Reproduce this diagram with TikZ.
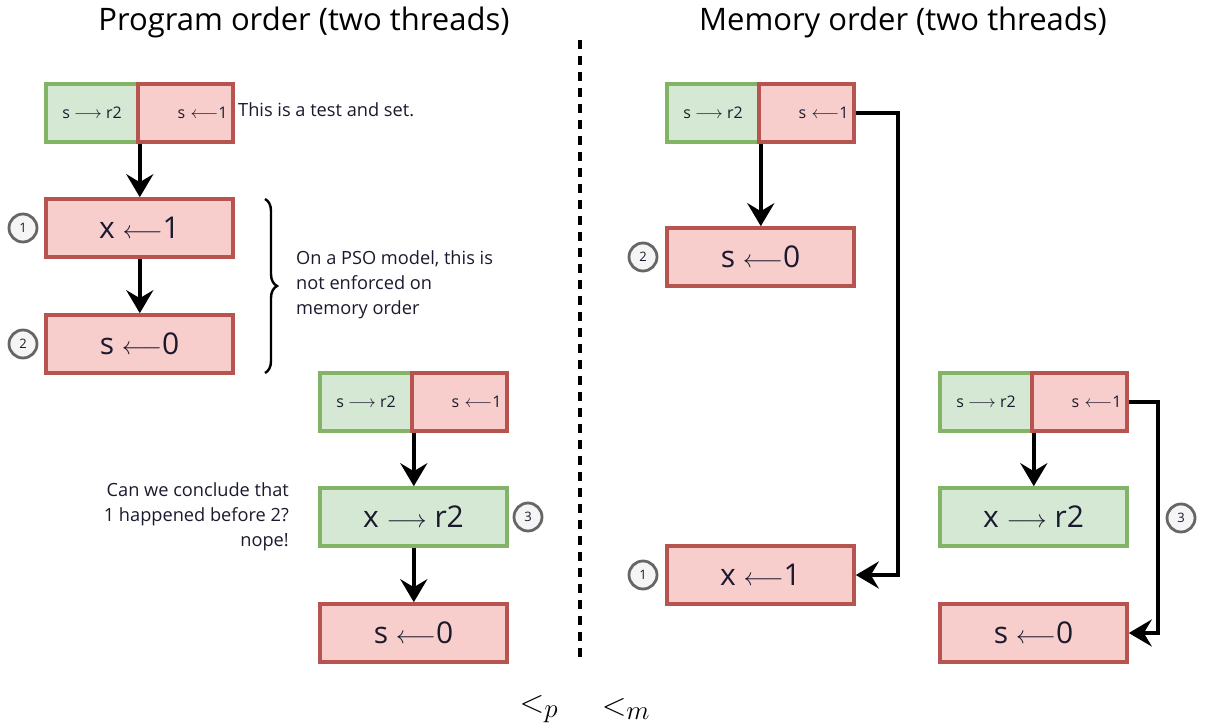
\documentclass[tikz,border=0pt]{standalone}
\usepackage{fontspec}
\setmainfont{Open Sans}
\usetikzlibrary{arrows.meta,decorations.pathreplacing,calc}
\definecolor{gfill}{HTML}{D5E8D4}
\definecolor{gline}{HTML}{82B366}
\definecolor{rfill}{HTML}{F8CECC}
\definecolor{rline}{HTML}{B85450}
\definecolor{cline}{HTML}{666666}
\definecolor{cfill}{HTML}{F5F5F5}
\definecolor{ink}{HTML}{1A1A2E}
\begin{document}
\begin{tikzpicture}[x=1pt,y=-1pt,
  bigg/.style={draw=gline,fill=gfill,line width=3.6pt,minimum width=187pt,minimum height=58pt,inner sep=0pt,text=ink,font=\fontsize{30}{36}\selectfont},
  bigr/.style={bigg,draw=rline,fill=rfill},
  smallg/.style={draw=gline,fill=gfill,line width=3.6pt,minimum width=92pt,minimum height=58pt,inner sep=0pt,text=ink,font=\fontsize{16}{20}\selectfont},
  smallr/.style={draw=rline,fill=rfill,line width=3.6pt,minimum width=95pt,minimum height=58pt,inner sep=0pt,text width=84pt,align=right,text=ink,font=\fontsize{16}{20}\selectfont},
  numc/.style={circle,draw=cline,fill=cfill,line width=2.8pt,minimum size=28pt,inner sep=0pt,text=ink,font=\fontsize{13}{15}\selectfont},
  tip/.style={-{Stealth[length=23pt,width=27pt,inset=8pt]}},
  arr/.style={line width=4.5pt,tip},
  note/.style={text=ink,font=\fontsize{18.2}{25}\selectfont,inner sep=0pt},
  title/.style={text=black,font=\fontsize{31}{36}\selectfont,inner sep=0pt},
  mathlbl/.style={font=\Huge,inner sep=0pt}
]
\useasboundingbox (0,0) rectangle (1206,727);

% titles and divider
\node[title] (t1) at (304,22) {Program order (two threads)};
\node[title] (t2) at (903,22) {Memory order (two threads)};
\coordinate (d1) at (580,40);
\coordinate (d2) at (580,662);
\draw[line width=3.5pt,dash pattern=on 9pt off 7pt] (d1) -- (d2);

% ---------- left: program order ----------
\node[smallg] (ag) at (92,113) {s $\longrightarrow$ r2};
\node[smallr] (ar) at (185.5,113) {s $\longleftarrow$1};
\node[note,anchor=west] (an) at (238,110) {This is a test and set.};
\node[bigr] (ax) at (139.5,228) {x $\longleftarrow$1};
\node[bigr] (as) at (139.5,344) {s $\longleftarrow$0};
\node[numc] (c1) at (23,228) {1};
\node[numc] (c2) at (23,344) {2};
\draw[arr] (ag.south east) -- (ag.south east |- ax.north);
\draw[arr] (ax.south -| ag.south east) -- (as.north -| ag.south east);

\coordinate (b1) at (265,199);
\coordinate (b2) at (265,373);
\draw[line width=2.4pt,decorate,decoration={brace,amplitude=12pt}] (b1) -- (b2);
\node[note,anchor=north west,align=left] (pso) at (296,250) {On a PSO model, this is\\not enforced on\\memory order};

\node[smallg] (bg) at (366,402) {s $\longrightarrow$ r2};
\node[smallr] (br) at (459.5,402) {s $\longleftarrow$1};
\node[bigg] (bx) at (413.5,517) {x $\longrightarrow$ r2};
\node[bigr] (bs) at (413.5,633) {s $\longleftarrow$0};
\node[numc] (c3) at (528,517) {3};
\draw[arr] (bg.south east) -- (bg.south east |- bx.north);
\draw[arr] (bx.south -| bg.south east) -- (bs.north -| bg.south east);
\node[note,anchor=north east,align=right] (q) at (289,482) {Can we conclude that\\1 happened before 2?\\nope!};

% ---------- right: memory order ----------
\node[smallg] (cg) at (713,113) {s $\longrightarrow$ r2};
\node[smallr] (cr) at (806.5,113) {s $\longleftarrow$1};
\node[bigr] (cs) at (760.5,257) {s $\longleftarrow$0};
\node[bigr] (cx) at (760.5,575) {x $\longleftarrow$1};
\node[numc] (c4) at (643,257) {2};
\node[numc] (c5) at (643,575) {1};
\draw[arr] (cg.south east) -- (cg.south east |- cs.north);
\coordinate (k1) at (898,0);
\draw[arr] (cr.east) -- (cr.east -| k1) -- (cx.east -| k1) -- (cx.east);

\node[smallg] (dg) at (986,402) {s $\longrightarrow$ r2};
\node[smallr] (dr) at (1079.5,402) {s $\longleftarrow$1};
\node[bigg] (dx) at (1033.5,517) {x $\longrightarrow$ r2};
\node[bigr] (ds) at (1033.5,633) {s $\longleftarrow$0};
\node[numc] (c6) at (1181,518) {3};
\draw[arr] (dg.south east) -- (dg.south east |- dx.north);
\coordinate (k2) at (1158,0);
\draw[line width=3.6pt,tip] (dr.east) -- (dr.east -| k2) -- (ds.east -| k2) -- (ds.east);

% bottom math
\node[mathlbl] (lp) at (539,709) {\scalebox{1.3}{$<_p$}};
\node[mathlbl] (lm) at (626,709) {\scalebox{1.3}{$<_m$}};
\end{tikzpicture}
\end{document}
